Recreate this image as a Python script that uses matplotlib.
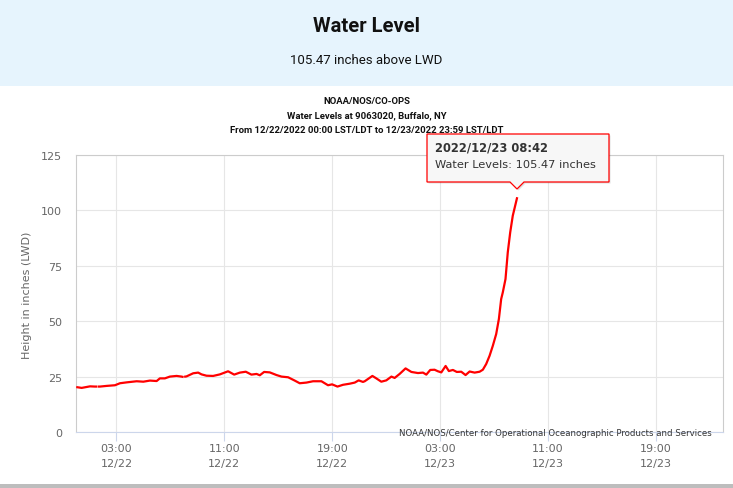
import numpy as np
import matplotlib
matplotlib.use("Agg")
import matplotlib.pyplot as plt
from matplotlib.patches import Rectangle, Polygon

# ---- data: hours since 12/22/2022 00:00, water level (inches above LWD)
hours = [0.1, 0.42, 1.04, 1.4, 1.5, 1.6, 1.7, 1.78, 2.27, 2.89, 3.26, 3.76, 4.5, 4.99, 5.48,
         5.98, 6.22, 6.59, 6.96, 7.46, 7.83, 7.9, 8.0, 8.1, 8.2, 8.69, 9.06, 9.31, 9.68,
         10.17, 10.67, 11.28, 11.73, 12.15, 12.59, 13.01, 13.39, 13.63, 13.95,
         14.37, 14.87, 15.24, 15.73, 16.22, 16.59, 17.09, 17.58, 18.2, 18.69,
         18.99, 19.39, 19.8, 20.3, 20.67, 20.96, 21.28, 21.41, 21.98, 22.27,
         22.64, 23.01, 23.39, 23.63, 24.0, 24.44, 24.87, 25.36, 25.73, 25.98,
         26.27, 26.59, 26.84, 27.09, 27.41, 27.65, 27.95, 28.24, 28.57, 28.89,
         29.19, 29.56, 29.93, 30.17, 30.42, 30.67, 30.91, 31.16, 31.36, 31.53,
         31.65, 31.85, 32.02, 32.2, 32.39, 32.7]
levels = [20.2, 19.9, 20.6, 20.5, 20.5, np.nan, 20.5, 20.5, 20.8, 21.1, 22.0, 22.4, 22.9, 22.7, 23.2,
          23.0, 24.2, 24.2, 25.0, 25.3, 25.0, 24.9, np.nan, 25.0, 25.1, 26.5, 26.8, 26.0, 25.4,
          25.3, 26.0, 27.4, 25.9, 26.8, 27.2, 25.9, 26.2, 25.6, 27.1,
          26.9, 25.7, 25.0, 24.7, 23.2, 22.0, 22.3, 22.9, 22.9, 21.1,
          21.5, 20.5, 21.3, 21.8, 22.3, 23.3, 22.6, 22.9, 25.3, 24.2,
          22.7, 23.3, 25.0, 24.4, 26.2, 28.7, 27.1, 26.6, 26.8, 25.9,
          28.0, 28.1, 27.4, 26.9, 29.8, 27.5, 28.0, 27.1, 27.2, 25.7,
          27.3, 26.8, 27.2, 28.1, 30.7, 34.4, 38.9, 44.2, 51.0, 60.0,
          63.0, 69.0, 81.1, 90.1, 97.6, 105.47]

tick_hours = [3, 11, 19, 27, 35, 43]
tick_labels = ["03:00\n12/22", "11:00\n12/22", "19:00\n12/22",
               "03:00\n12/23", "11:00\n12/23", "19:00\n12/23"]
y_ticks = [0, 25, 50, 75, 100, 125]

W, H = 733, 489
fig = plt.figure(figsize=(W / 100, H / 100), dpi=100)
fig.patch.set_facecolor("white")

def fx(x):
    return x / W

def fy(y):
    return 1 - y / H

NARROW = ["Roboto", "DejaVu Sans"]

# header band
fig.patches.append(Rectangle((0, fy(87)), 1, 87 / H, transform=fig.transFigure,
                             facecolor="#e6f4fd", edgecolor="none", zorder=0))
fig.text(0.5, fy(27), "Water Level", ha="center", va="center", fontsize=14.5,
         fontweight="bold", family=NARROW, color="#111111")
fig.text(0.5, fy(61), "105.47 inches above LWD", ha="center", va="center",
         fontsize=9.5, family=NARROW, color="#111111")

# bottom border
fig.patches.append(Rectangle((0, 0), 1, 4 / H, transform=fig.transFigure,
                             facecolor="#bdbdbd", edgecolor="none", zorder=0))

# chart titles
for ty, txt in [(101, "NOAA/NOS/CO-OPS"),
                (116, "Water Levels at 9063020, Buffalo, NY"),
                (131, "From 12/22/2022 00:00 LST/LDT to 12/23/2022 23:59 LST/LDT")]:
    fig.text(0.5, fy(ty), txt, ha="center", va="center", fontsize=6.8,
             fontweight="bold", family=NARROW, color="#111111")

# axes
left, right, top, bottom = 76, 723, 156, 433
ax = fig.add_axes([fx(left), fy(bottom), (right - left) / W, (bottom - top) / H])
ax.plot(hours, levels, color="#ff0000", linewidth=1.6, zorder=3)
ax.set_xlim(0, 47.98)
ax.set_ylim(0, 125)
ax.set_xticks(tick_hours)
ax.set_xticklabels(tick_labels)
ax.set_yticks(y_ticks)
ax.grid(True, color="#e6e6e6", linewidth=0.8)
ax.set_axisbelow(True)
for side in ["top", "right", "left"]:
    ax.spines[side].set_color("#cccccc")
    ax.spines[side].set_linewidth(0.8)
ax.spines["bottom"].set_color("#ccd6eb")
ax.spines["bottom"].set_linewidth(0.8)
ax.tick_params(axis="x", length=6.5, width=0.8, color="#ccd6eb", labelcolor="#666666",
               labelsize=8, pad=1.5)
ax.tick_params(axis="y", length=0, labelsize=8, labelcolor="#666666", pad=10)
for lbl in ax.get_xticklabels():
    lbl.set_linespacing(1.6)

fig.text(fx(27), fy(295), "Height in inches (LWD)", rotation=90, ha="center",
         va="center", fontsize=8, color="#666666")

# credits
fig.text(fx(712), fy(434), "NOAA/NOS/Center for Operational Oceanographic Products and Services",
         ha="right", va="center", fontsize=6.2, color="#333333", zorder=5)

# tooltip
bx0, bx1, by0, by1 = 427, 609, 135, 183
px = 517
pts = [(bx0, by0), (bx1, by0), (bx1, by1), (px + 7, by1), (px, by1 + 7),
       (px - 7, by1), (bx0, by1)]
shadow = [(fx(x + 1.5), fy(y + 1.5)) for x, y in pts]
fig.patches.append(Polygon(shadow, closed=True, transform=fig.transFigure,
                           facecolor="#000000", alpha=0.12, edgecolor="none", zorder=6))
fig.patches.append(Polygon([(fx(x), fy(y)) for x, y in pts], closed=True,
                           transform=fig.transFigure, facecolor="#f7f7f7",
                           edgecolor="#ff0000", linewidth=0.9, zorder=7))
fig.text(fx(435), fy(148), "2022/12/23 08:42", ha="left", va="center", fontsize=8.3,
         fontweight="bold", color="#333333", zorder=8)
fig.text(fx(435), fy(165), "Water Levels: 105.47 inches", ha="left", va="center",
         fontsize=8.2, color="#333333", zorder=8)

fig.savefig("out.png", dpi=100)
